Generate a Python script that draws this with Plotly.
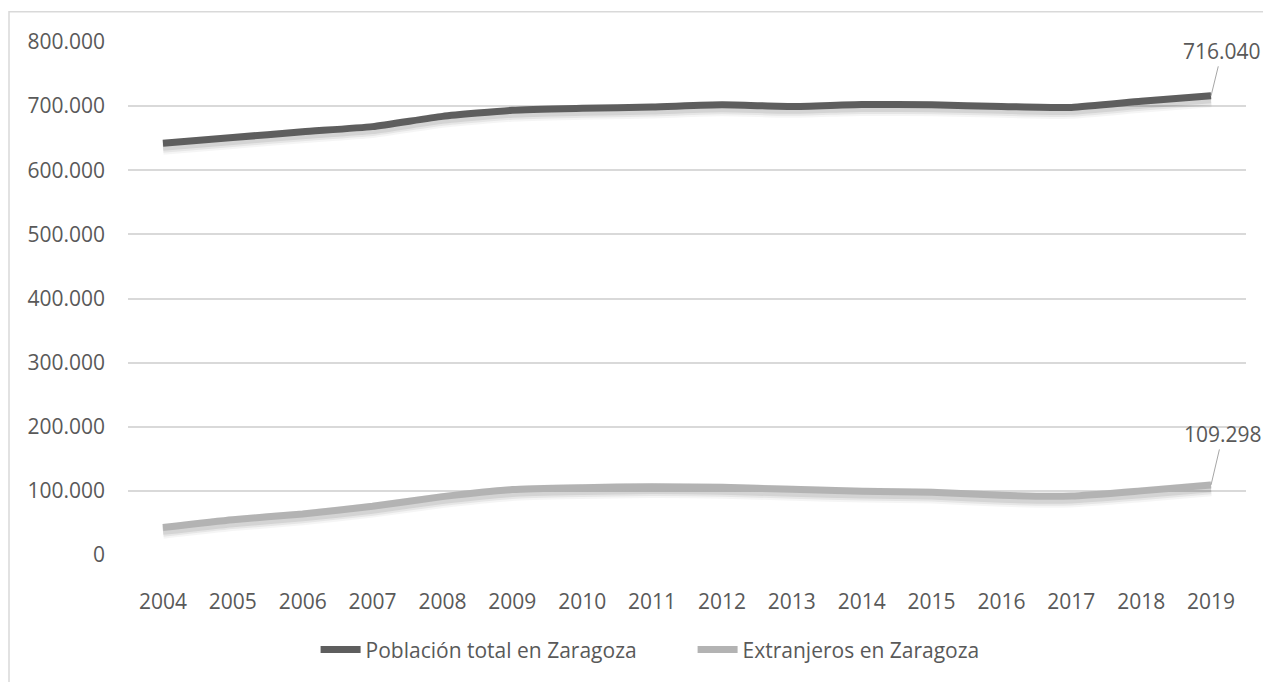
import plotly.graph_objects as go

# Padrón municipal de Zaragoza, 2004-2019
years = [str(y) for y in range(2004, 2020)]
poblacion_total = [642000, 651000, 660000, 668000, 684000, 693500, 696500, 698500,
                   702000, 699500, 702500, 702000, 699500, 698000, 707500, 716040]
extranjeros = [43000, 55000, 64000, 76000, 91000, 102000, 105000, 106500,
               105500, 102500, 99500, 98000, 93000, 92000, 100000, 109298]

series_names = ["Población total en Zaragoza", "Extranjeros en Zaragoza"]
series_colors = ["#5e5e5e", "#b3b3b3"]

FONT = "Open Sans"
FS = 21
TEXT = "#595959"
Y_MAX = 800000
PLOT_H = 524                     # pixel height of the plotting area
SHADOW_PX = 4                    # drop-shadow offset in pixels
shift = SHADOW_PX * Y_MAX / PLOT_H
last = len(years) - 1

fig = go.Figure()

# soft drop shadow under each line, drawn on an offset copy of the value axis
for vals in (poblacion_total, extranjeros):
    for w, a in ((15, 0.04), (11, 0.06), (7, 0.08)):
        fig.add_trace(go.Scatter(
            x=years, y=vals, mode="lines", yaxis="y",
            line=dict(color=f"rgba(0,0,0,{a})", width=w, shape="spline", smoothing=0.5),
            showlegend=False, hoverinfo="skip"))

for name, vals, col in zip(series_names, [poblacion_total, extranjeros], series_colors):
    fig.add_trace(go.Scatter(
        x=years, y=vals, mode="lines", name=name, yaxis="y2",
        line=dict(color=col, width=7, shape="spline", smoothing=0.5)))

# value labels on the last point of each series
for vals, ax, ay in ((poblacion_total, 11, -45), (extranjeros, 12, -51)):
    fig.add_annotation(
        x=last, y=vals[-1], xref="x", yref="y2",
        text=f"{vals[-1]:,}".replace(",", "."),
        showarrow=True, arrowhead=0, arrowwidth=1, arrowcolor="#a6a6a6",
        ax=ax, ay=ay, font=dict(family=FONT, size=FS, color=TEXT))

# chart frame
fig.add_shape(type="rect", xref="paper", yref="paper",
              x0=-119 / 1118, x1=1.2, y0=-0.5, y1=1 + 31 / 524,
              line=dict(color="#d9d9d9", width=1.5), fillcolor="rgba(0,0,0,0)")

fig.update_layout(
    width=1263, height=682,
    margin=dict(l=128, r=17, t=42, b=116),
    paper_bgcolor="white", plot_bgcolor="white",
    separators=",.",
    font=dict(family=FONT, size=FS, color=TEXT),
    xaxis=dict(type="category", categoryorder="array", categoryarray=years,
               range=[-0.5, last + 0.5], autorange=False,
               showgrid=False, zeroline=False, showline=False,
               ticks="", ticklabelstandoff=32, tickfont=dict(size=FS, color=TEXT)),
    yaxis=dict(range=[shift, Y_MAX + shift], visible=False, showgrid=False),
    yaxis2=dict(range=[0, Y_MAX], overlaying="y", side="left", dtick=100000,
                tickformat=",d", showgrid=True, gridcolor="#d9d9d9", gridwidth=1.5,
                zeroline=False, showline=False, ticks="", ticklabelstandoff=22,
                tickfont=dict(size=FS, color=TEXT)),
    legend=dict(orientation="h", x=0.505, xanchor="center", y=-0.145, yanchor="top",
                font=dict(family=FONT, size=FS, color=TEXT),
                itemwidth=40, entrywidth=322, entrywidthmode="pixels"),
    showlegend=True,
)

fig.write_html("out.html")
